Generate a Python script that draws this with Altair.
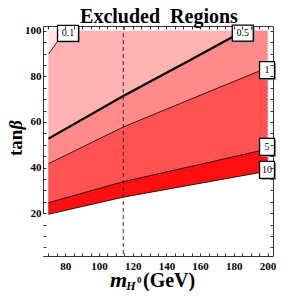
import altair as alt
import pandas as pd

# ---- data (m_H0 in GeV, tan beta) ----
c01_x = [70, 80]
c01_y = [89.8, 100]
c05_x = [70, 114.4, 155, 186]
c05_y = [52.7, 71.4, 87.5, 100]
c1_x = [70, 114.4, 160, 200]
c1_y = [41.7, 57.8, 71.7, 83.8]
c5_x = [70, 114.4, 200]
c5_y = [24.6, 33.8, 48.1]
c10_x = [70, 114.4, 200]
c10_y = [19.5, 27.0, 38.4]
levels = ["0.1", "0.5", "1", "5", "10"]
label_x = [81.6, 185.3, 199.7, 199.7, 199.7]
label_y = [98.9, 99.0, 82.7, 49.1, 39.0]
lep_limit = [114.4]
x_lo, x_hi, y_top = 70, 200, 100
x_ticks = list(range(70, 201, 5))
y_ticks = list(range(5, 101, 5))

# ---- styling ----
FONT = "Liberation Serif"
XD = [66.75, 203.25]
YD = [1.2, 102.1]
W, H = 230, 230
band_colors = ["#FFE3E3", "#FFB3B3", "#FF8A8A", "#FF5252", "#FF1010", "#FFFFFF"]
line_widths = [0.8, 2.2, 0.8, 0.8, 0.8]

xs = alt.Scale(domain=XD, nice=False, zero=False)
ys = alt.Scale(domain=YD, nice=False, zero=False)

common_axis = dict(offset=-3, tickSize=3, domain=False, grid=False, tickColor="#333",
                   labelFont=FONT, labelFontWeight="bold", labelFontSize=11,
                   labelColor="black", labelOverlap=False, labelFlush=False,
                   title=None, zindex=1)
ax_bottom = alt.Axis(orient="bottom", values=x_ticks, labelPadding=4,
                     labelExpr="datum.value % 20 == 0 ? datum.label : ''", **common_axis)
ax_left = alt.Axis(orient="left", values=y_ticks, labelPadding=2,
                   labelExpr="datum.value % 20 == 0 ? datum.label : ''", **common_axis)
ax_top = alt.Axis(orient="top", values=x_ticks, labels=False, **common_axis)
ax_right = alt.Axis(orient="right", values=y_ticks, labels=False, **common_axis)

layers = []

# filled bands: paint from lightest (top) down, each from its contour to the bottom;
# the final white band (below the 10 contour) is widened to the frame to hide seams
band_x = [[x_lo, x_hi], c01_x + [x_hi], c05_x + [x_hi], c1_x, c5_x, [XD[0]] + c10_x + [XD[1]]]
band_y = [[y_top, y_top], c01_y + [y_top], c05_y + [y_top], c1_y, c5_y,
          [c10_y[0]] + c10_y + [c10_y[-1]]]
for i, (bx, by) in enumerate(zip(band_x, band_y)):
    df = pd.DataFrame({"x": bx, "y": by})
    enc = dict(
        x=alt.X("x:Q", scale=xs, axis=ax_bottom if i == 0 else None),
        y=alt.Y("y:Q", scale=ys, axis=ax_left if i == 0 else None),
        y2=alt.datum(YD[0]),
    )
    layers.append(alt.Chart(df).mark_area(color=band_colors[i], clip=True, opacity=1).encode(**enc))

# contour lines
for cx, cy, w in zip([c01_x, c05_x, c1_x, c5_x, c10_x], [c01_y, c05_y, c1_y, c5_y, c10_y], line_widths):
    df = pd.DataFrame({"x": cx, "y": cy})
    layers.append(alt.Chart(df).mark_line(color="black", strokeWidth=w, clip=True).encode(
        x=alt.X("x:Q", scale=xs, axis=None), y=alt.Y("y:Q", scale=ys, axis=None)))

# LEP limit dashed line
layers.append(alt.Chart(pd.DataFrame({"x": lep_limit})).mark_rule(
    color="#222", strokeWidth=0.9, strokeDash=[4, 3]).encode(
    x=alt.X("x:Q", scale=xs, axis=None)))

# contour labels (boxes with shadow)
lab = pd.DataFrame({"t": levels, "x": label_x, "y": label_y})
wide_path = "M-1.3125,-1L1.3125,-1L1.3125,1L-1.3125,1Z"
tall_path = "M-0.88,-1L0.88,-1L0.88,1L-0.88,1Z"
for subset, path, size in [(lab.iloc[:2], wide_path, 256), (lab.iloc[2:], tall_path, 289)]:
    enc = dict(x=alt.X("x:Q", scale=xs, axis=None), y=alt.Y("y:Q", scale=ys, axis=None))
    layers.append(alt.Chart(subset).mark_point(shape=path, size=size, filled=True, color="#9a9a9a",
                                               opacity=1, xOffset=1.5, yOffset=1.5).encode(**enc))
    layers.append(alt.Chart(subset).mark_point(shape=path, size=size, filled=True, fill="white",
                                               stroke="black", strokeWidth=1.3, opacity=1).encode(**enc))
layers.append(alt.Chart(lab).mark_text(font=FONT, fontSize=10, color="black").encode(
    x=alt.X("x:Q", scale=xs, axis=None), y=alt.Y("y:Q", scale=ys, axis=None), text="t:N"))

# top / right frame ticks
layers.append(alt.Chart(pd.DataFrame({"x": [x_lo], "y": [y_top]})).mark_point(opacity=0).encode(
    x=alt.X("x:Q", scale=xs, axis=ax_top), y=alt.Y("y:Q", scale=ys, axis=ax_right)))

# chart title and axis titles as text (positions in pixels relative to the plot)
text_parts = [
    ("Excluded\u00a0 Regions", 116.0, -3.5, 20, "normal", "center", 0),
    ("tan", -21.5, 130.0, 19, "normal", "left", 270),
    ("β", -21.5, 103.5, 18, "italic", "left", 270),
    ("m", 67.0, 261.0, 22, "italic", "left", 0),
    ("H", 83.2, 264.0, 12, "italic", "left", 0),
    ("0", 94.0, 256.5, 9, "normal", "left", 0),
    ("(GeV)", 100.0, 261.0, 20, "normal", "left", 0),
]
for t, px, py, fs, st, al, ang in text_parts:
    layers.append(alt.Chart(pd.DataFrame({"t": [t]})).mark_text(
        font=FONT, fontSize=fs, fontStyle=st, fontWeight="bold", align=al,
        baseline="alphabetic", angle=ang, color="black"
    ).encode(text="t:N", x=alt.value(px), y=alt.value(py)))

chart = alt.layer(*layers).resolve_axis(x="independent", y="independent").properties(
    width=W, height=H,
    autosize=alt.AutoSizeParams(type="none"),
    padding={"left": 35, "top": 18, "right": 3, "bottom": 35},
).configure_view(stroke="#333", strokeWidth=1)

chart.save("out.html", embed_options={"renderer": "svg", "actions": False})
